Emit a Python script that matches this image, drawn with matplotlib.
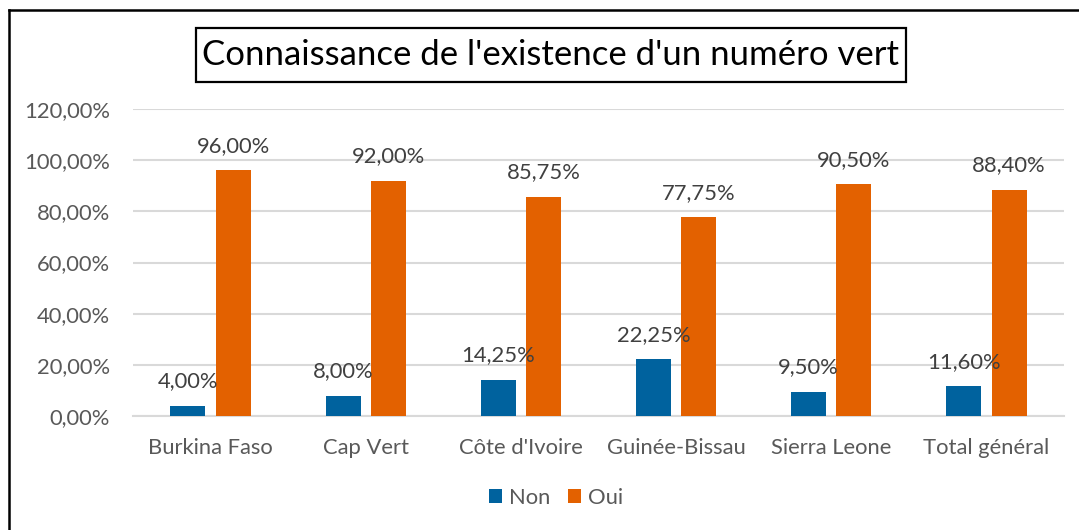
import matplotlib
matplotlib.use("Agg")
import matplotlib.pyplot as plt
from matplotlib.patches import Rectangle
from matplotlib.lines import Line2D
import numpy as np

categories = ["Burkina Faso", "Cap Vert", "Côte d'Ivoire", "Guinée-Bissau", "Sierra Leone", "Total général"]
non_values = [4.00, 8.00, 14.25, 22.25, 9.50, 11.60]
oui_values = [96.00, 92.00, 85.75, 77.75, 90.50, 88.40]
series_names = ["Non", "Oui"]
title = "Connaissance de l'existence d'un numéro vert"

plt.rcParams['font.family'] = ['Lato', 'DejaVu Sans']

W, H = 1079, 530
fig = plt.figure(figsize=(W/100, H/100), dpi=100)

def fx(px): return px / W
def fy(py): return 1 - py / H

ax = fig.add_axes([fx(133), fy(416), fx(1064) - fx(133), fy(109) - fy(416)])

blue = "#00629E"
orange = "#E36100"
x = np.arange(len(categories))
bw = 0.225
off = 0.146
b1 = ax.bar(x - off, non_values, bw, color=blue, label=series_names[0], zorder=3)
b2 = ax.bar(x + off, oui_values, bw, color=orange, label=series_names[1], zorder=3)

def fmt(v):
    return f"{v:.2f}".replace(".", ",") + "%"

FS = 15.8
for bars, vals in ((b1, non_values), (b2, oui_values)):
    for rect, v in zip(bars, vals):
        ax.annotate(fmt(v), (rect.get_x() + rect.get_width()/2, v),
                    xytext=(0, 17.5), textcoords="offset points",
                    ha="center", va="center", fontsize=FS, color="#404040", zorder=4)

ax.set_xlim(-0.5, len(categories) - 0.5)
ax.set_ylim(0, 120)
ticks = np.arange(0, 121, 20)
ax.set_yticks(ticks)
ax.set_yticklabels([fmt(t) for t in ticks], fontsize=FS, color="#595959")
ax.set_xticks(x)
ax.set_xticklabels(categories, fontsize=FS, color="#595959")
ax.tick_params(axis="both", length=0)
ax.tick_params(axis="y", pad=16.5)
ax.tick_params(axis="x", pad=15.5)
ax.grid(axis="y", color="#D9D9D9", lw=1.5, zorder=0)
for s in ("top", "right", "left"):
    ax.spines[s].set_visible(False)
ax.spines["bottom"].set_color("#D9D9D9")
ax.spines["bottom"].set_linewidth(1.5)

# title box
fig.patches.append(Rectangle((fx(196), fy(82)), fx(906) - fx(196), fy(28) - fy(82),
                             transform=fig.transFigure, fill=False, edgecolor="black", lw=1.6))
fig.text(fx(551), fy(55), title, ha="center", va="center", fontsize=25, color="black")

# outer frame (left and top edges visible)
fig.add_artist(Line2D([fx(9), fx(9)], [0, fy(10)], transform=fig.transFigure, color="black", lw=1.8))
fig.add_artist(Line2D([fx(9), 1], [fy(10), fy(10)], transform=fig.transFigure, color="black", lw=1.8))

fig.legend(handles=[b1, b2], labels=series_names, loc="center", bbox_to_anchor=(fx(556), fy(498)),
           ncol=2, frameon=False, fontsize=FS, labelcolor="#595959",
           handlelength=0.6, handleheight=0.6, handletextpad=0.3, columnspacing=0.8)

fig.savefig("out.png", dpi=100)
